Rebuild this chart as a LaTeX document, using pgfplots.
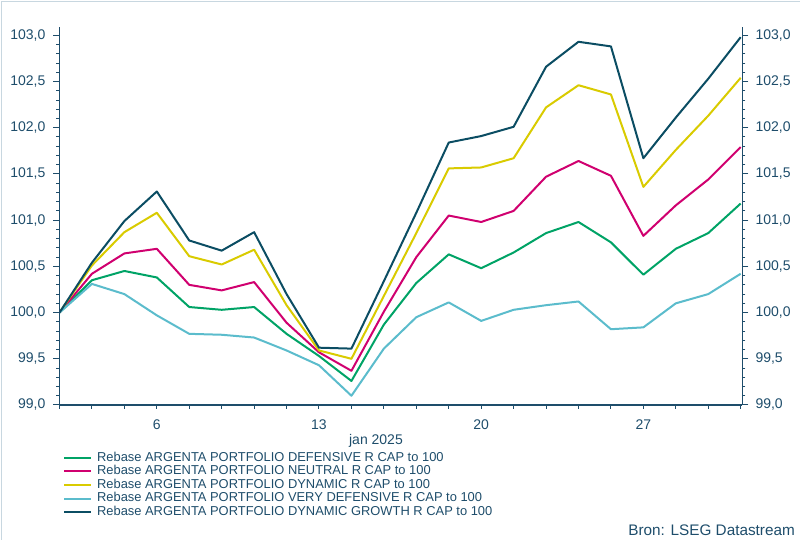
\documentclass[border=0pt]{standalone}
\usepackage{fontspec}
\setmainfont{Liberation Sans}
\usepackage{pgfplots}
\usepackage{pgfplotstable}
\pgfplotsset{compat=1.18}

\definecolor{txtcol}{HTML}{1E4D6B}
\definecolor{framecol}{HTML}{C8D7E0}
\definecolor{cdef}{HTML}{00A366}
\definecolor{cneu}{HTML}{D0006F}
\definecolor{cdyn}{HTML}{D9CB00}
\definecolor{cvdef}{HTML}{5BBCCC}
\definecolor{cgrow}{HTML}{0B4D63}

% business days of jan 2025, index 0 = 1 jan
\pgfplotstableread{
x  def    neu    dyn    vdef   grow
0  100.00 100.00 100.00 100.00 100.00
1  100.35 100.42 100.51 100.31 100.54
2  100.45 100.64 100.87 100.20 100.99
3  100.38 100.69 101.08 99.97  101.31
4  100.06 100.30 100.61 99.77  100.78
5  100.03 100.24 100.52 99.76  100.67
6  100.06 100.33 100.68 99.73  100.87
7  99.77  99.89  100.08 99.59  100.20
8  99.53  99.57  99.59  99.43  99.62
9  99.26  99.37  99.50  99.10  99.61
10 99.87  100.01 100.18 99.61  100.34
11 100.32 100.60 100.86 99.95  101.08
12 100.63 101.05 101.56 100.11 101.84
13 100.48 100.98 101.57 99.91  101.91
14 100.65 101.10 101.67 100.03 102.01
15 100.86 101.47 102.22 100.08 102.66
16 100.98 101.64 102.46 100.12 102.93
17 100.76 101.48 102.36 99.82  102.88
18 100.41 100.83 101.36 99.84  101.67
19 100.69 101.16 101.76 100.10 102.11
20 100.86 101.44 102.13 100.20 102.53
21 101.18 101.79 102.54 100.42 102.98
}\data

\pgfplotsset{
  base/.style={
    scale only axis, width=682.8pt, height=378pt,
    at={(0pt,0pt)}, anchor=south west,
    xmin=0, xmax=21.05, ymin=99, ymax=103.09,
    axis line style={-, color=txtcol, line width=1.2pt},
    tick style={color=txtcol, line width=1pt},
    tick align=outside,
    tick label style={font=\fontsize{14}{16}\selectfont, text=txtcol},
    /pgf/number format/assume math mode=true,
  },
  yside/.style={
    base, axis x line=none,
    ytick={99,99.5,...,103}, minor y tick num=4,
    major tick length=6pt, minor tick length=3pt,
    yticklabel style={/pgf/number format/fixed, /pgf/number format/fixed zerofill,
      /pgf/number format/precision=1, /pgf/number format/use comma, /pgf/number format/1000 sep={}},
  },
}

\begin{document}
\begin{tikzpicture}
\begin{axis}[
  base,
  axis x line*=bottom, axis y line=none,
  xtick={0,...,21},
  xticklabels={,,,6,,,,,13,,,,,20,,,,,27,,,},
  major tick length=4pt,
  xticklabel style={anchor=center, yshift=-16pt},
  xlabel={jan 2025},
  xlabel style={at={(axis description cs:0.4635,0)}, anchor=center, yshift=-35.7pt, font=\fontsize{14}{16}\selectfont, text=txtcol},
  legend style={at={(axis description cs:0.005,-0.124)}, anchor=north west, draw=none, fill=none,
    inner sep=0pt, row sep=2pt,
    nodes={inner sep=0pt, anchor=west, text height=9pt, text depth=2.6pt, font=\fontsize{12.9}{14}\selectfont, text=txtcol}},
  legend cell align=left,
  legend image code/.code={\draw[#1] (0pt,0pt) -- (27pt,0pt); \path (32pt,0pt);},
  every axis plot/.append style={line width=2pt, line join=round},
]
\addplot[color=cdef] table[x=x, y=def] {\data};
\addlegendentry{Rebase ARGENTA PORTFOLIO DEFENSIVE R CAP to 100}
\addplot[color=cneu] table[x=x, y=neu] {\data};
\addlegendentry{Rebase ARGENTA PORTFOLIO NEUTRAL R CAP to 100}
\addplot[color=cdyn] table[x=x, y=dyn] {\data};
\addlegendentry{Rebase ARGENTA PORTFOLIO DYNAMIC R CAP to 100}
\addplot[color=cvdef] table[x=x, y=vdef] {\data};
\addlegendentry{Rebase ARGENTA PORTFOLIO VERY DEFENSIVE R CAP to 100}
\addplot[color=cgrow] table[x=x, y=grow] {\data};
\addlegendentry{Rebase ARGENTA PORTFOLIO DYNAMIC GROWTH R CAP to 100}
\end{axis}

\begin{axis}[yside, axis y line*=left,
  yticklabel style={anchor=east, inner sep=0pt, xshift=-8pt}]
\end{axis}

\begin{axis}[yside, axis y line*=right,
  yticklabel style={anchor=west, inner sep=0pt, xshift=7pt}]
\end{axis}

\node[anchor=east, inner sep=0pt, font=\fontsize{15.3}{17}\selectfont, text=txtcol] at (735.5pt,-125pt) {Bron: LSEG Datastream};
\draw[color=framecol, line width=1pt] (-57.5pt,-135pt) -- (-57.5pt,403pt) -- (740.5pt,403pt);

\pgfresetboundingbox
\path (-59.5pt,-135pt) rectangle (740.5pt,405pt);
\end{tikzpicture}
\end{document}
